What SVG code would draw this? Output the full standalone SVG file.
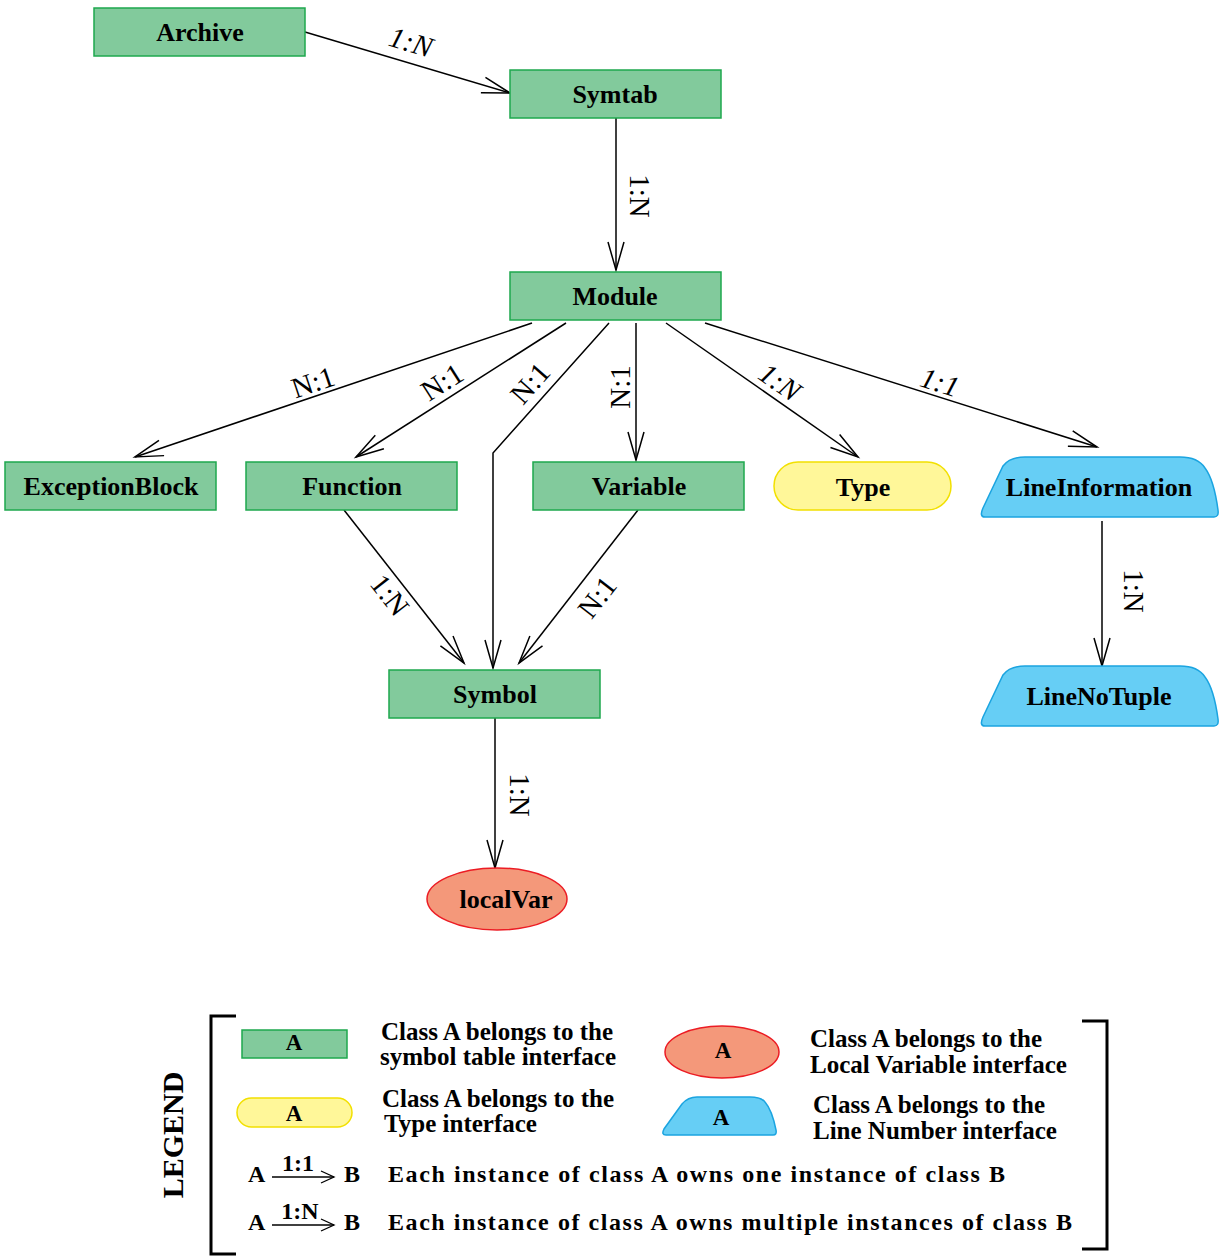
<svg xmlns="http://www.w3.org/2000/svg" width="1225" height="1257" viewBox="0 0 1225 1257">
<style>
.g{fill:#82ca9c;stroke:#1ea84e;stroke-width:1.5}
.y{fill:#fff799;stroke:#f2e000;stroke-width:1.5}
.b{fill:#66cef5;stroke:#1ba4e0;stroke-width:1.5}
.r{fill:#f4987a;stroke:#ec1c24;stroke-width:1.5}
.t{font-family:"Liberation Serif","Times New Roman",serif;font-weight:bold;font-size:26px;text-anchor:middle;fill:#000}
.e{stroke:#000;stroke-width:1.5;fill:none}
.l{font-family:"Liberation Serif","Times New Roman",serif;font-size:29px;text-anchor:middle;fill:#000}
.i{font-style:italic}
.lg{font-family:"Liberation Serif","Times New Roman",serif;font-weight:bold;font-size:25px;fill:#000}
.lr{font-family:"Liberation Serif","Times New Roman",serif;font-weight:bold;font-size:24px;fill:#000}
.br{stroke:#000;stroke-width:3;fill:none}
</style>
<defs>
<marker id="arr" markerUnits="userSpaceOnUse" markerWidth="34" markerHeight="22" viewBox="-31 -11 34 22" refX="0" refY="0" orient="auto">
<path d="M-28,-8 L0,0 L-28,8" fill="none" stroke="#000" stroke-width="1.5"/>
</marker>
<marker id="sarr" markerUnits="userSpaceOnUse" markerWidth="18" markerHeight="16" viewBox="-15 -8 18 16" refX="0" refY="0" orient="auto">
<path d="M-13,-6 L0,0 L-13,6" fill="none" stroke="#000" stroke-width="1.3"/>
</marker>
<path id="trap" d="M 985,517 L 1214,517 Q 1219,517 1218,510 Q 1214,480 1205,468 Q 1198,457 1180,457 L 1025,457 Q 1010,457 1003,466 L 983,508 Q 979,517 985,517 Z"/>
</defs>

<g id="connectors">
<line class="e" x1="305" y1="32" x2="510" y2="93" marker-end="url(#arr)"/>
<line class="e" x1="616" y1="118" x2="616" y2="270" marker-end="url(#arr)"/>
<line class="e" x1="532" y1="323" x2="135" y2="457" marker-end="url(#arr)"/>
<line class="e" x1="566" y1="323" x2="356" y2="457" marker-end="url(#arr)"/>
<polyline class="e" points="609,323 493,453 493,668" marker-end="url(#arr)"/>
<line class="e" x1="636" y1="323" x2="636" y2="460" marker-end="url(#arr)"/>
<line class="e" x1="666" y1="323" x2="858" y2="457" marker-end="url(#arr)"/>
<line class="e" x1="705" y1="323" x2="1097" y2="447" marker-end="url(#arr)"/>
<line class="e" x1="344" y1="510" x2="464" y2="663" marker-end="url(#arr)"/>
<line class="e" x1="638" y1="510" x2="519" y2="663" marker-end="url(#arr)"/>
<line class="e" x1="495" y1="718" x2="495" y2="868" marker-end="url(#arr)"/>
<line class="e" x1="1102" y1="521" x2="1102" y2="666" marker-end="url(#arr)"/>
<text class="l i" transform="translate(411,42) rotate(16.6)" y="10">1:N</text>
<text class="l" transform="translate(640,196) rotate(90)" y="10">1:N</text>
<text class="l" transform="translate(313,382) rotate(-18.6)" y="10">N:1</text>
<text class="l" transform="translate(442,382) rotate(-32.5)" y="10">N:1</text>
<text class="l" transform="translate(530,383) rotate(-48.3)" y="10">N:1</text>
<text class="l" transform="translate(620,387) rotate(-90)" y="10">N:1</text>
<text class="l i" transform="translate(780,382) rotate(35)" y="10">1:N</text>
<text class="l i" transform="translate(940,382) rotate(17.6)" y="10">1:1</text>
<text class="l" transform="translate(390,595) rotate(52)" y="10">1:N</text>
<text class="l" transform="translate(597,597) rotate(-52)" y="10">N:1</text>
<text class="l" transform="translate(520,795) rotate(90)" y="10">1:N</text>
<text class="l" transform="translate(1134,591) rotate(90)" y="10">1:N</text>
</g>

<g id="archive"><rect class="g" x="94" y="8" width="211" height="48"/><text class="t" x="200" y="41">Archive</text></g>
<g id="symtab"><rect class="g" x="510" y="70" width="211" height="48"/><text class="t" x="615" y="103">Symtab</text></g>
<g id="module"><rect class="g" x="510" y="272" width="211" height="48"/><text class="t" x="615" y="305">Module</text></g>
<g id="exceptionblock"><rect class="g" x="5" y="462" width="211" height="48"/><text class="t" x="111" y="495">ExceptionBlock</text></g>
<g id="function"><rect class="g" x="246" y="462" width="211" height="48"/><text class="t" x="352" y="495">Function</text></g>
<g id="variable"><rect class="g" x="533" y="462" width="211" height="48"/><text class="t" x="639" y="495">Variable</text></g>
<g id="type"><rect class="y" x="774" y="462" width="177" height="48" rx="24"/><text class="t" x="863" y="496">Type</text></g>
<g id="lineinformation"><use href="#trap" class="b"/><text class="t" x="1099" y="496">LineInformation</text></g>
<g id="symbol"><rect class="g" x="389" y="670" width="211" height="48"/><text class="t" x="495" y="703">Symbol</text></g>
<g id="linenotuple"><use href="#trap" class="b" transform="translate(0,209)"/><text class="t" x="1099" y="705">LineNoTuple</text></g>
<g id="localvar"><ellipse class="r" cx="497" cy="899" rx="70" ry="31"/><text class="t" x="506" y="908">localVar</text></g>

<g id="legend">
<path class="br" d="M236,1016 L211,1016 L211,1254 L236,1254"/>
<path class="br" d="M1082,1021 L1107,1021 L1107,1249 L1082,1249"/>
<text class="t" style="font-size:30px" transform="translate(173,1135) rotate(-90)" y="10">LEGEND</text>
<rect class="g" x="242" y="1030" width="105" height="28"/>
<text class="t" style="font-size:23px" x="294" y="1050">A</text>
<rect class="y" x="237" y="1098" width="115" height="29" rx="14.5"/>
<text class="t" style="font-size:23px" x="294" y="1121">A</text>
<ellipse class="r" cx="722" cy="1052" rx="57" ry="26"/>
<text class="t" style="font-size:23px" x="723" y="1058">A</text>
<path class="b" d="M 666,1135 L 773,1135 Q 777,1135 776,1130 Q 772,1110 765,1102 Q 761,1097 750,1097 L 697,1097 Q 688,1097 682,1104 L 664,1129 Q 661,1135 666,1135 Z"/>
<text class="t" style="font-size:23px" x="721" y="1125">A</text>
<text class="lg" x="381" y="1040">Class A belongs to the</text>
<text class="lg" x="380" y="1065">symbol table interface</text>
<text class="lg" x="382" y="1107">Class A belongs to the</text>
<text class="lg" x="384" y="1132">Type interface</text>
<text class="lg" x="810" y="1047">Class A belongs to the</text>
<text class="lg" x="810" y="1073">Local Variable interface</text>
<text class="lg" x="813" y="1113">Class A belongs to the</text>
<text class="lg" x="813" y="1139">Line Number interface</text>
<text class="lr" x="248" y="1182">A</text>
<line class="e" x1="272" y1="1177" x2="334" y2="1177" stroke-width="1.3" marker-end="url(#sarr)"/>
<text class="lr" x="298" y="1171" text-anchor="middle">1:1</text>
<text class="lr" x="344" y="1182">B</text>
<text class="lr" x="388" y="1182" textLength="617" lengthAdjust="spacing">Each instance of class A owns one instance of class B</text>
<text class="lr" x="248" y="1230">A</text>
<line class="e" x1="272" y1="1225" x2="334" y2="1225" stroke-width="1.3" marker-end="url(#sarr)"/>
<text class="lr" x="300" y="1219" text-anchor="middle">1:N</text>
<text class="lr" x="344" y="1230">B</text>
<text class="lr" x="388" y="1230" textLength="684" lengthAdjust="spacing">Each instance of class A owns multiple instances of class B</text>
</g>
</svg>
